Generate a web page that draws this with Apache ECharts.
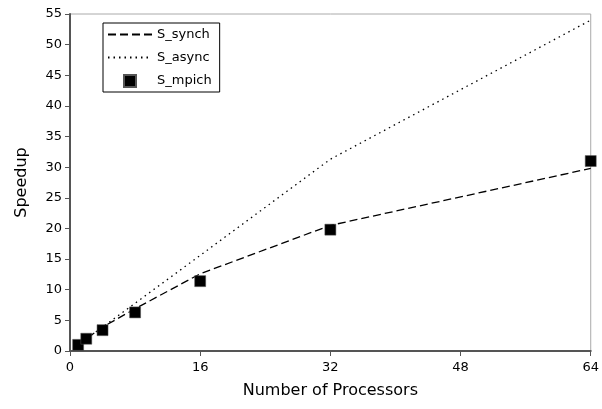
<!DOCTYPE html>
<html>
<head>
<meta charset="utf-8">
<script src="https://cdn.jsdelivr.net/npm/echarts@6/dist/echarts.min.js"></script>
<style>
  html, body { margin: 0; padding: 0; background: #fff; }
  #chart { width: 602px; height: 409px; }
</style>
</head>
<body>
<div id="chart"></div>
<script>
// values
const processors = [1, 2, 4, 8, 16, 32, 64];
const sSynch = [1, 2, 3.9, 6.9, 12.6, 20.5, 29.8];
const sAsync = [1, 2, 3.9, 7.8, 15.6, 31.3, 54];
const sMpich = [1, 2, 3.4, 6.3, 11.4, 19.8, 31];

const pairs = (xs, ys) => xs.map((x, i) => [x, ys[i]]);
const font = "DejaVu Sans";
const square = "path://M0,0L10,0L10,10L0,10Z";

const chart = echarts.init(document.getElementById("chart"));
chart.setOption({
    animation: false,
    textStyle: { fontFamily: font },
    grid: {
        left: 70, right: 9, top: 14, bottom: 58,
        show: true, borderColor: "#aaa", borderWidth: 1
    },
    legend: {
        orient: "vertical",
        left: 103, top: 23,
        itemWidth: 44, itemHeight: 12, itemGap: 10,
        symbolKeepAspect: true,
        padding: [5, 8, 4, 4],
        borderColor: "#000", borderWidth: 1,
        textStyle: { fontFamily: font, fontSize: 13, color: "#000" },
        data: [
            { name: "S_synch", itemStyle: { opacity: 0 } },
            { name: "S_async", itemStyle: { opacity: 0 } },
            { name: "S_mpich", icon: square }
        ]
    },
    xAxis: {
        type: "value", min: 0, max: 64, interval: 16,
        name: "Number of Processors", nameLocation: "middle", nameGap: 32,
        nameTextStyle: { fontFamily: font, fontSize: 16, color: "#000" },
        axisLine: { lineStyle: { color: "#555", width: 2 } },
        axisTick: { inside: false, length: 5, lineStyle: { color: "#555" } },
        axisLabel: { fontSize: 13, color: "#000", margin: 10 },
        splitLine: { show: false }
    },
    yAxis: {
        type: "value", min: 0, max: 55, interval: 5,
        name: "Speedup", nameLocation: "middle", nameGap: 40,
        nameTextStyle: { fontFamily: font, fontSize: 16, color: "#000" },
        axisLine: { show: true, lineStyle: { color: "#555", width: 2 } },
        axisTick: { show: true, length: 5, lineStyle: { color: "#555" } },
        axisLabel: { fontSize: 13, color: "#000", margin: 8 },
        splitLine: { show: false }
    },
    series: [
        {
            name: "S_synch", type: "line", data: pairs(processors, sSynch),
            symbol: "none",
            lineStyle: { color: "#000", width: 1.3, type: [8, 4] },
            itemStyle: { color: "#000" }
        },
        {
            name: "S_async", type: "line", data: pairs(processors, sAsync),
            symbol: "none",
            lineStyle: { color: "#000", width: 1.3, type: [1.5, 4] },
            itemStyle: { color: "#000" }
        },
        {
            name: "S_mpich", type: "scatter", data: pairs(processors, sMpich),
            symbol: "rect", symbolSize: 11, z: 5,
            itemStyle: { color: "#000", opacity: 1, borderColor: "#555", borderWidth: 0.5 }
        }
    ]
});
</script>
</body>
</html>
